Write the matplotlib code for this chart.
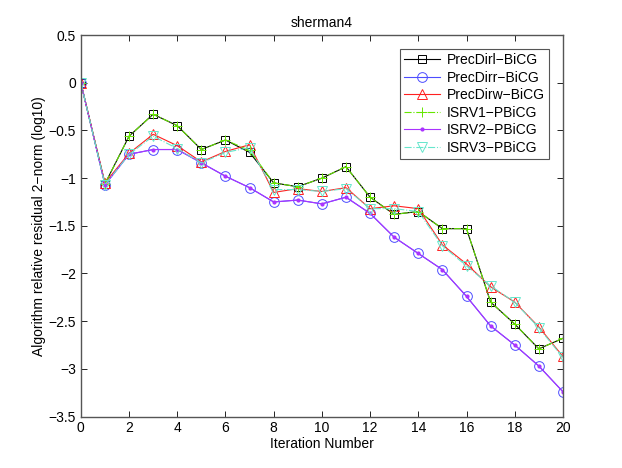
import numpy as np
import matplotlib
matplotlib.use('Agg')
import matplotlib.pyplot as plt

plt.rcParams['font.family'] = ['Liberation Sans', 'DejaVu Sans']
plt.rcParams['font.size'] = 10

# iteraciones y residuos (log10)
iteraciones = list(range(21))
prec_dirl = [0, -1.06, -0.56, -0.33, -0.45, -0.70, -0.60, -0.73, -1.05, -1.09, -1.00,
             -0.88, -1.20, -1.38, -1.35, -1.53, -1.53, -2.30, -2.53, -2.79, -2.68]
prec_dirr = [0, -1.07, -0.75, -0.70, -0.70, -0.84, -0.98, -1.10, -1.25, -1.23, -1.27,
             -1.20, -1.37, -1.62, -1.79, -1.96, -2.24, -2.55, -2.75, -2.97, -3.24]
prec_dirw = [0, -1.05, -0.74, -0.54, -0.66, -0.83, -0.72, -0.65, -1.15, -1.11, -1.14,
             -1.10, -1.32, -1.29, -1.32, -1.70, -1.90, -2.14, -2.30, -2.56, -2.87]
isrv1 = [0, -1.06, -0.56, -0.33, -0.45, -0.70, -0.60, -0.71, -1.05, -1.09, -1.00,
         -0.88, -1.20, -1.38, -1.35, -1.53, -1.53, -2.30, -2.53, -2.79, -2.68]
isrv2 = [0, -1.07, -0.75, -0.70, -0.70, -0.84, -0.98, -1.10, -1.25, -1.23, -1.27,
         -1.20, -1.37, -1.62, -1.79, -1.96, -2.24, -2.55, -2.75, -2.97, -3.24]
isrv3 = [0, -1.07, -0.75, -0.56, -0.69, -0.84, -0.73, -0.68, -1.12, -1.12, -1.14,
         -1.11, -1.32, -1.32, -1.35, -1.71, -1.92, -2.13, -2.30, -2.57, -2.88]

fig = plt.figure(figsize=(6.22, 4.68), dpi=100)
ax = fig.add_axes([0.13, 0.11, 0.775, 0.815])

lw = 0.8
ax.plot(iteraciones, prec_dirl, '-', color='k', lw=lw, marker='s', ms=6,
        mfc='none', mew=0.7, label='PrecDirl\u2212BiCG')
ax.plot(iteraciones, prec_dirr, '-', color='#4d4dff', lw=lw, marker='o', ms=7,
        mfc='none', mew=0.7, label='PrecDirr\u2212BiCG')
ax.plot(iteraciones, prec_dirw, '-', color='#ff2020', lw=lw, marker='^', ms=7,
        mfc='none', mew=0.7, label='PrecDirw\u2212BiCG')
ax.plot(iteraciones, isrv1, '-.', color='#66e600', lw=lw, marker='+', ms=7,
        mew=0.7, label='ISRV1\u2212PBiCG')
ax.plot(iteraciones, isrv2, '-', color='#aa33ff', lw=lw, marker='.', ms=4,
        label='ISRV2\u2212PBiCG')
ax.plot(iteraciones, isrv3, '-.', color='#66e6cc', lw=lw, marker='v', ms=7,
        mfc='none', mew=0.7, label='ISRV3\u2212PBiCG')

ax.set_xlim(0, 20)
ax.set_ylim(-3.5, 0.5)
ax.set_xticks(np.arange(0, 21, 2))
ax.set_yticks(np.arange(-3.5, 0.51, 0.5))
ax.set_yticklabels(['\u22123.5', '\u22123', '\u22122.5', '\u22122', '\u22121.5',
                    '\u22121', '\u22120.5', '0', '0.5'])
ax.tick_params(direction='in', length=4, width=0.6, top=True, right=True)
for s in ax.spines.values():
    s.set_color('#555555')
    s.set_linewidth(1.0)

ax.set_title('sherman4', fontsize=10)
ax.set_xlabel('Iteration Number', labelpad=1)
ax.set_ylabel('Algorithm relative residual 2\u2212norm (log10)', labelpad=2)

leg = ax.legend(loc='upper right', fancybox=False, edgecolor='#555555',
                framealpha=1, borderpad=0.3, labelspacing=0.25,
                handlelength=2.6, handletextpad=0.5, borderaxespad=1.0)
leg.get_frame().set_linewidth(0.8)

fig.savefig('out.png', dpi=100)
